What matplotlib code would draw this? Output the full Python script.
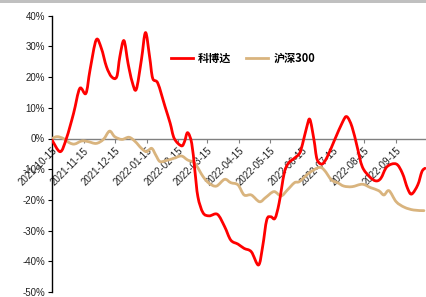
import matplotlib
matplotlib.use("Agg")
import matplotlib.pyplot as plt
import matplotlib.dates as mdates
from matplotlib.ticker import FuncFormatter
from matplotlib.patches import Rectangle, PathPatch
from matplotlib.path import Path
from matplotlib.lines import Line2D
import numpy as np
import pandas as pd

# ---- data (percent returns) ----
kbd_dates = ["2021-10-15", "2021-10-23", "2021-10-29", "2021-11-05", "2021-11-11", "2021-11-17",
             "2021-11-21", "2021-11-27", "2021-12-02", "2021-12-07", "2021-12-12", "2021-12-17",
             "2021-12-20", "2021-12-24", "2021-12-28", "2022-01-01", "2022-01-05", "2022-01-10",
             "2022-01-14", "2022-01-18", "2022-01-21", "2022-01-26", "2022-02-02", "2022-02-07",
             "2022-02-11", "2022-02-18", "2022-02-21", "2022-02-24", "2022-02-28", "2022-03-03",
             "2022-03-06", "2022-03-11", "2022-03-17", "2022-03-25", "2022-04-01", "2022-04-07",
             "2022-04-14", "2022-04-20", "2022-04-27", "2022-05-04", "2022-05-08", "2022-05-12",
             "2022-05-16", "2022-05-20", "2022-05-24", "2022-05-29", "2022-06-02", "2022-06-08",
             "2022-06-13", "2022-06-16", "2022-06-20", "2022-06-23", "2022-06-27", "2022-06-30",
             "2022-07-05", "2022-07-10", "2022-07-17", "2022-07-25", "2022-07-29", "2022-08-03",
             "2022-08-08", "2022-08-13", "2022-08-20", "2022-08-26", "2022-08-31", "2022-09-06",
             "2022-09-15", "2022-09-21", "2022-09-26", "2022-09-30", "2022-10-06", "2022-10-10",
             "2022-10-13"]
kbd_values = [-0.5, -4.3, 0.0, 8.2, 16.3, 14.7,
              22.3, 32.1, 29.4, 23.4, 20.1, 20.1,
              26.6, 31.9, 24.5, 18.5, 16.0, 25.6,
              34.5, 26.6, 19.6, 18.0, 10.4, 5.0,
              0.0, -2.4, -1.0, 1.9, -1.6, -10.3,
              -19.0, -24.2, -25.2, -24.7, -28.7, -33.1,
              -34.4, -35.8, -36.9, -41.2, -35.2, -26.5,
              -25.5, -26.0, -21.1, -11.3, -8.1, -6.4,
              -4.8, -1.6, 3.8, 6.2, -0.5, -6.8,
              -8.3, -5.9, -0.5, 5.5, 7.1, 3.8,
              -2.7, -9.2, -12.4, -13.8, -13.0, -9.2,
              -8.3, -11.3, -16.2, -18.1, -15.1, -10.8,
              -9.7]

hs_dates = ["2021-10-15", "2021-10-20", "2021-10-26", "2021-11-01", "2021-11-06", "2021-11-13",
            "2021-11-19", "2021-11-27", "2021-12-04", "2021-12-10", "2021-12-15", "2021-12-22",
            "2021-12-29", "2022-01-04", "2022-01-10", "2022-01-15", "2022-01-20", "2022-01-24",
            "2022-01-28", "2022-02-03", "2022-02-11", "2022-02-18", "2022-02-24", "2022-03-03",
            "2022-03-11", "2022-03-17", "2022-03-24", "2022-04-01", "2022-04-07", "2022-04-14",
            "2022-04-20", "2022-04-27", "2022-05-05", "2022-05-11", "2022-05-19", "2022-05-26",
            "2022-06-01", "2022-06-08", "2022-06-13", "2022-06-22", "2022-07-02", "2022-07-07",
            "2022-07-14", "2022-07-20", "2022-07-26", "2022-08-03", "2022-08-13", "2022-08-21",
            "2022-08-29", "2022-09-03", "2022-09-08", "2022-09-15", "2022-09-23", "2022-10-02",
            "2022-10-12"]
hs_values = [0.0, 0.6, 0.0, -1.4, -1.8, -0.8,
             -1.0, -1.6, -0.3, 2.4, 0.6, -0.3,
             0.4, -1.0, -3.2, -4.3, -3.2, -5.4,
             -7.5, -7.2, -6.4, -5.7, -7.0, -8.1,
             -12.4, -14.6, -15.5, -13.3, -14.4, -15.1,
             -18.4, -18.4, -20.6, -19.2, -17.3, -18.7,
             -16.8, -14.4, -14.0, -11.3, -9.4, -10.3,
             -13.5, -14.4, -15.5, -15.7, -14.9, -16.0,
             -17.0, -18.4, -17.0, -20.6, -22.4, -23.3,
             -23.5]

tick_labels = ["2021-10-15", "2021-11-15", "2021-12-15", "2022-01-15", "2022-02-15", "2022-03-15",
               "2022-04-15", "2022-05-15", "2022-06-15", "2022-07-15", "2022-08-15", "2022-09-15"]
y_ticks = [40, 30, 20, 10, 0, -10, -20, -30, -40, -50]
series_names = ["科博达", "沪深300"]

RED = "#ff0000"
TAN = "#d9b47e"


def smooth_path(dates, values):
    """Excel-style smoothed line: cubic Bezier segments through the data points."""
    x = mdates.date2num(pd.to_datetime(dates).to_pydatetime())
    y = np.asarray(values, dtype=float)
    P = np.column_stack([x, y])
    n = len(P)
    verts = [P[0]]
    codes = [Path.MOVETO]
    for i in range(n - 1):
        p0 = P[i - 1] if i > 0 else P[i]
        p1 = P[i]
        p2 = P[i + 1]
        p3 = P[i + 2] if i + 2 < n else P[i + 1]
        c1 = p1 + (p2 - p0) / 6.0
        c2 = p2 - (p3 - p1) / 6.0
        verts += [c1, c2, p2]
        codes += [Path.CURVE4] * 3
    return Path(verts, codes)


# ---- figure ----
W, H, DPI = 426, 297, 100
fig = plt.figure(figsize=(W / DPI, H / DPI), dpi=DPI)
fig.patch.set_facecolor("white")
fig.patches.append(Rectangle((0, 1 - 3 / H), 1, 3 / H, transform=fig.transFigure,
                             facecolor="#c0c0c0", edgecolor="none"))

ax = fig.add_axes([52 / W, (H - 292) / H, 1 - 52 / W, (292 - 15.7) / H])
ax.set_facecolor("none")
ax.xaxis_date()

LW = 2.0
ax.add_patch(PathPatch(smooth_path(hs_dates, hs_values), facecolor="none", edgecolor=TAN,
                       lw=LW, zorder=3, joinstyle="round", capstyle="round"))
ax.add_patch(PathPatch(smooth_path(kbd_dates, kbd_values), facecolor="none", edgecolor=RED,
                       lw=LW, zorder=4, joinstyle="round", capstyle="round"))

ax.set_ylim(-50, 40)
ax.set_xlim(pd.Timestamp("2021-10-15"), pd.Timestamp("2022-10-14"))

ax.set_yticks(y_ticks)
ax.yaxis.set_major_formatter(FuncFormatter(lambda v, p: f"{int(round(v))}%"))
ax.set_xticks(pd.to_datetime(tick_labels))
ax.set_xticklabels(tick_labels)

for s in ["top", "right"]:
    ax.spines[s].set_visible(False)
ax.spines["left"].set_color("black")
ax.spines["left"].set_linewidth(1.0)
ax.spines["bottom"].set_position(("data", 0))
ax.spines["bottom"].set_color("#808080")
ax.spines["bottom"].set_linewidth(1.0)

ax.tick_params(axis="y", direction="out", length=3, width=0.8, color="black",
               labelsize=7, labelcolor="#222222", pad=2)
ax.tick_params(axis="x", direction="out", length=3, width=0.8, color="#808080",
               labelsize=7, labelcolor="#222222", pad=2, labelrotation=45)
for t in ax.get_xticklabels():
    t.set_rotation(45)
    t.set_ha("right")
    t.set_va("top")
    t.set_rotation_mode("anchor")
for t in ax.get_xticklabels() + ax.get_yticklabels():
    t.set_family(["Liberation Sans", "DejaVu Sans"])

handles = [Line2D([], [], color=RED, lw=LW), Line2D([], [], color=TAN, lw=LW)]
leg = fig.legend(handles, series_names, loc="center", bbox_to_anchor=(243 / W, 1 - 58.5 / H),
                 ncol=2, frameon=False, handlelength=2.0, handletextpad=0.45, columnspacing=1.3,
                 prop={"family": ["Noto Sans CJK SC", "DejaVu Sans"], "weight": "bold", "size": 8})

fig.savefig("out.png", dpi=DPI, facecolor="white")
